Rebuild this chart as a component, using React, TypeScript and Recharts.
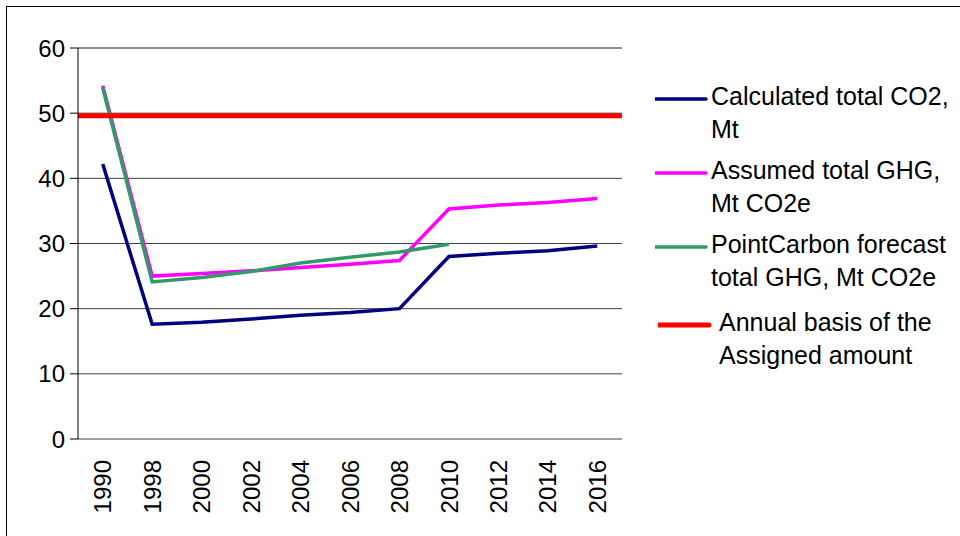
import React from 'react';
import { LineChart, Line, XAxis, YAxis, CartesianGrid, ReferenceLine } from 'recharts';

const years = ['1990', '1998', '2000', '2002', '2004', '2006', '2008', '2010', '2012', '2014', '2016'];
const calculatedCO2 = [42.2, 17.6, 17.9, 18.4, 19.0, 19.4, 20.0, 28.0, 28.5, 28.9, 29.6];
const assumedGHG = [54.2, 25.0, 25.4, 25.8, 26.3, 26.8, 27.4, 35.3, 35.9, 36.3, 36.9];
const pointCarbonGHG = [53.9, 24.1, 24.8, 25.7, 27.0, 27.9, 28.7, 29.9, null, null, null];
const assignedBasis = 49.6;
const yTicks = [0, 10, 20, 30, 40, 50, 60];

const FONT = '"Liberation Sans", Arial, sans-serif';

const data = years.map((year, i) => ({
  idx: i,
  year,
  calculated: calculatedCO2[i],
  assumed: assumedGHG[i],
  pointCarbon: pointCarbonGHG[i],
}));

// tick marks sit between the year columns, labels in the middle
const labelTicks = years.map((_, i) => i);
const edgeTicks = [...years.map((_, i) => i - 0.5), years.length - 0.5];
const xDomain = [-0.5, years.length - 0.5];

const legendItems = [
  { name: 'Calculated total CO2,\nMt', color: '#000080', width: 3.5 },
  { name: 'Assumed total GHG,\nMt CO2e', color: '#FF00FF', width: 3.5 },
  { name: 'PointCarbon forecast\ntotal GHG, Mt CO2e', color: '#339966', width: 3.5 },
  { name: 'Annual basis of the\nAssigned amount', color: '#FF0000', width: 5 },
];

const NoLabel = () => <g />;

const YearTick = (props: any) => {
  const { x, y, payload } = props;
  return (
    <g transform={`translate(${x},${y + 19})`}>
      <text
        transform="rotate(-90)"
        textAnchor="end"
        dy="0.36em"
        fontSize={24}
        fontFamily={FONT}
        fill="#000"
      >
        {years[payload.value]}
      </text>
    </g>
  );
};

const SideLegend = () => (
  <div
    style={{
      position: 'absolute',
      left: 655,
      top: 80,
      width: 300,
      fontFamily: FONT,
      fontSize: 25,
      lineHeight: '33px',
      color: '#000',
    }}
  >
    {legendItems.map((item, i) => (
      <div
        key={item.name}
        style={{
          display: 'flex',
          alignItems: 'flex-start',
          marginTop: i === 0 ? 0 : i === 3 ? 12 : 8,
          marginLeft: i === 3 ? 3 : 0,
        }}
      >
        <svg width={56} height={33} style={{ flexShrink: 0 }}>
          <line x1={0} y1={19} x2={51} y2={19} stroke={item.color} strokeWidth={item.width} strokeLinecap="round" />
        </svg>
        <div style={{ whiteSpace: 'pre', marginLeft: i === 3 ? 5 : 0 }}>{item.name}</div>
      </div>
    ))}
  </div>
);

export default function App() {
  return (
    <div
      style={{
        position: 'absolute',
        left: 0,
        top: 0,
        width: 960,
        height: 536,
        background: '#fff',
        overflow: 'hidden',
      }}
    >
      <div
        style={{
          position: 'absolute',
          left: 6,
          top: 6,
          width: 1000,
          height: 600,
          borderLeft: '1px solid #000',
          borderTop: '1px solid #000',
        }}
      />
      <LineChart
        width={960}
        height={536}
        data={data}
        margin={{ top: 48, right: 338, bottom: 37, left: 0 }}
        style={{ position: 'absolute', left: 0, top: 0 }}
      >
        <CartesianGrid vertical={false} stroke="#404040" strokeWidth={1} />
        <XAxis
          xAxisId="edges"
          type="number"
          domain={xDomain}
          ticks={edgeTicks}
          allowDataOverflow
          interval={0}
          tick={<NoLabel />}
          tickSize={8}
          tickLine={{ stroke: '#000' }}
          axisLine={{ stroke: '#000' }}
          height={0}
        />
        <XAxis
          xAxisId="years"
          dataKey="idx"
          type="number"
          domain={xDomain}
          ticks={labelTicks}
          allowDataOverflow
          interval={0}
          tick={<YearTick />}
          tickLine={false}
          axisLine={false}
          tickSize={0}
          height={60}
        />
        <YAxis
          domain={[0, 60]}
          ticks={yTicks}
          width={78}
          tickSize={8}
          tickMargin={5}
          tickLine={{ stroke: '#000' }}
          axisLine={{ stroke: '#000' }}
          tick={{ fontSize: 24, fontFamily: FONT, fill: '#000' }}
        />
        <YAxis
          yAxisId="frame"
          orientation="right"
          domain={[0, 60]}
          width={0}
          tick={false}
          tickLine={false}
          axisLine={{ stroke: '#808080' }}
        />
        <ReferenceLine y={60} xAxisId="years" stroke="#808080" strokeWidth={1} />
        <Line
          xAxisId="years"
          dataKey="calculated"
          stroke="#000080"
          strokeWidth={3.5}
          dot={false}
          isAnimationActive={false}
        />
        <Line
          xAxisId="years"
          dataKey="assumed"
          stroke="#FF00FF"
          strokeWidth={3.5}
          dot={false}
          isAnimationActive={false}
        />
        <Line
          xAxisId="years"
          dataKey="pointCarbon"
          stroke="#339966"
          strokeWidth={3.5}
          dot={false}
          isAnimationActive={false}
        />
        <ReferenceLine y={assignedBasis} xAxisId="years" stroke="#FF0000" strokeWidth={5} />
      </LineChart>
      <SideLegend />
    </div>
  );
}
